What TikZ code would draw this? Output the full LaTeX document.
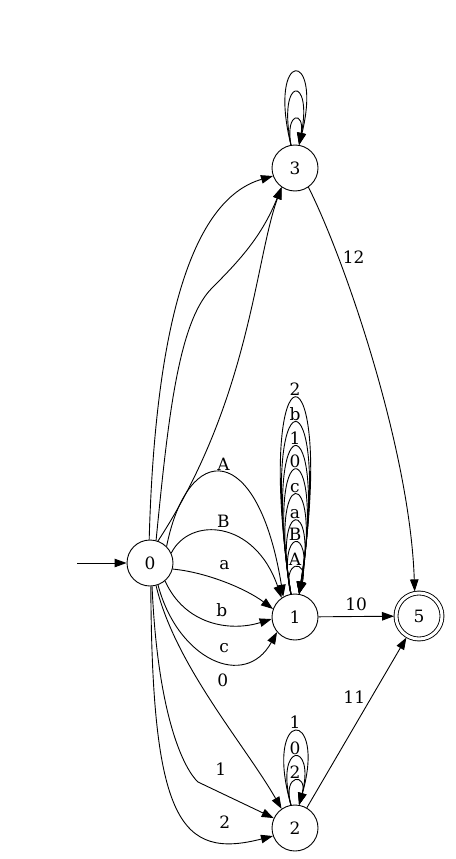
\documentclass[tikz,border=0pt]{standalone}
\usepackage{fontspec}
\setmainfont{DejaVu Serif}
\usetikzlibrary{arrows.meta}
\tikzset{
    state/.style={circle, draw, minimum size=46pt, inner sep=0pt, font=\fontsize{17}{20}\selectfont},
    accept/.style={state, double, double distance=3pt, outer sep=2pt},
    trans/.style={-{Triangle[length=12pt,width=8.5pt]}},
    lbl/.style={inner sep=1pt, font=\fontsize{17}{20}\selectfont}
}
\begin{document}
\begin{tikzpicture}[x=1pt, y=-1pt, line width=0.9pt]
    \useasboundingbox (0,0) rectangle (455,859);
    \node[state] (n0) at (150,563) {0};
    \node[state] (n1) at (295,617) {1};
    \node[state] (n2) at (295,828) {2};
    \node[state] (n3) at (295,168) {3};
    \node[accept] (n5) at (419,616) {5};
    \coordinate (start) at (77,563);
    \draw[trans] (start) -- (n0);
    % 0 -> 1
    \draw[trans] (n0.45) .. controls (188,440) and (258,440) .. node[lbl, above=1pt] {A} (n1.120);
    \draw[trans] (n0.25) .. controls (190,516) and (255,520) .. node[lbl, above=3pt] {B} (n1.125);
    \draw[trans] (n0.-15) .. controls (205,572) and (245,588) .. node[lbl, above=11pt] {a} (n1.160);
    \draw[trans] (n0.-50) .. controls (185,625) and (230,632) .. node[lbl, pos=0.6, above=6pt] {b} (n1.185);
    \draw[trans] (n0.-70) .. controls (178,660) and (245,690) .. node[lbl, pos=0.58, above=8pt] {c} (n1.-140);
    % 0 -> 2
    \draw[trans] (n0.-75) .. controls (175,665) and (245,745) .. node[lbl, pos=0.4, right=18pt] {0} (n2.125);
    \draw[trans] (n0.-85) .. controls (158,720) and (185,770) .. (198,782) -- node[lbl, pos=0.3, above=16pt] {1} (n2.155);
    \draw[trans] (n0.-88) .. controls (152,820) and (180,860) .. node[lbl, pos=0.8, above=12pt] {2} (n2.200);
    % 0 -> 3
    \draw[trans] (n0.92) .. controls (155,330) and (190,200) .. (n3.200);
    \draw[trans] (n0.75) .. controls (168,420) and (178,322) .. (212,288) .. controls (240,260) and (262,236) .. (n3.235);
    \draw[trans] (n0.70) .. controls (250,400) and (255,260) .. (n3.235);
    % into 5
    \draw[trans] (n1) -- node[lbl, above=4pt] {10} (n5);
    \draw[trans] (n2) -- node[lbl, pos=0.65, left=5pt] {11} (n5);
    \draw[trans] (n3.-55) .. controls (345,260) and (410,450) .. node[lbl, pos=0.24, right=3pt] {12} (n5.100);
    % self loops
    \foreach \h/\w/\t in {261/40/2, 228/36/b, 196/32/1, 165/28/0, 132/24/c, 97/19/a, 68/15/B, 35/10/A}
        \draw[trans] (n1.100) .. controls +(-\w,-\h) and +(\w,-\h) .. node[lbl, above=1pt] {\t} (n1.80);
    \foreach \h/\w/\t in {98/28/1, 64/17/0, 32/9/2}
        \draw[trans] (n2.100) .. controls +(-\w,-\h) and +(\w,-\h) .. node[lbl, above=1pt] {\t} (n2.80);
    \foreach \h/\w in {97/24, 70/14, 34/6}
        \draw[trans] (n3.100) .. controls +(-\w,-\h) and +(\w,-\h) .. (n3.80);
\end{tikzpicture}
\end{document}
